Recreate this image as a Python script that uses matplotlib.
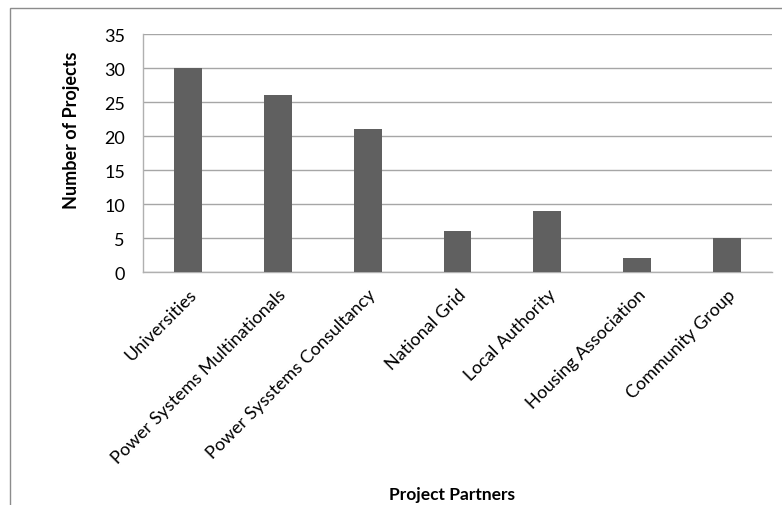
import matplotlib
matplotlib.use("Agg")
import matplotlib.pyplot as plt
from matplotlib.patches import Rectangle

categories = ["Universities", "Power Systems Multinationals", "Power Sysstems Consultancy",
              "National Grid", "Local Authority", "Housing Association", "Community Group"]
values = [30, 26, 21, 6, 9, 2, 5]
yticks = [0, 5, 10, 15, 20, 25, 30, 35]

plt.rcParams['font.family'] = ['Lato', 'DejaVu Sans']

fig = plt.figure(figsize=(7.82, 5.06), dpi=100)
W, H = 782, 506
ax = fig.add_axes([143 / W, 1 - 273 / H, (772 - 143) / W, (273 - 35) / H])

x = list(range(len(categories)))
ax.bar(x, values, width=0.31, color="#606060", zorder=3)
ax.set_xlim(-0.5, len(categories) - 0.5)
ax.set_ylim(0, 35)
ax.set_yticks(yticks)
ax.set_yticklabels([str(v) for v in yticks], fontsize=13)
ax.set_xticks(x)
ax.set_xticklabels(categories, rotation=45, ha="right", rotation_mode="anchor", fontsize=13)
ax.tick_params(axis="both", length=0, colors="#000000")
ax.tick_params(axis="y", pad=13)
ax.tick_params(axis="x", pad=10)
ax.yaxis.grid(True, color="#a6a6a6", linewidth=1.0, zorder=0)
for s in ["top", "right"]:
    ax.spines[s].set_visible(False)
for s in ["left", "bottom"]:
    ax.spines[s].set_color("#b0b0b0")
    ax.spines[s].set_linewidth(1.0)

fig.text(71 / W, 1 - 130 / H, "Number of Projects", rotation=90, ha="center", va="center",
         fontsize=13, fontweight="bold")
fig.text(452 / W, 1 - 495 / H, "Project Partners", ha="center", va="center",
         fontsize=12.5, fontweight="bold")

fig.patches.append(Rectangle((10 / W, -0.1), 1.2, 1 - 9 / H + 0.1, transform=fig.transFigure,
                             fill=False, edgecolor="#8c8c8c", linewidth=1.0))

fig.savefig("out.png", dpi=100)
